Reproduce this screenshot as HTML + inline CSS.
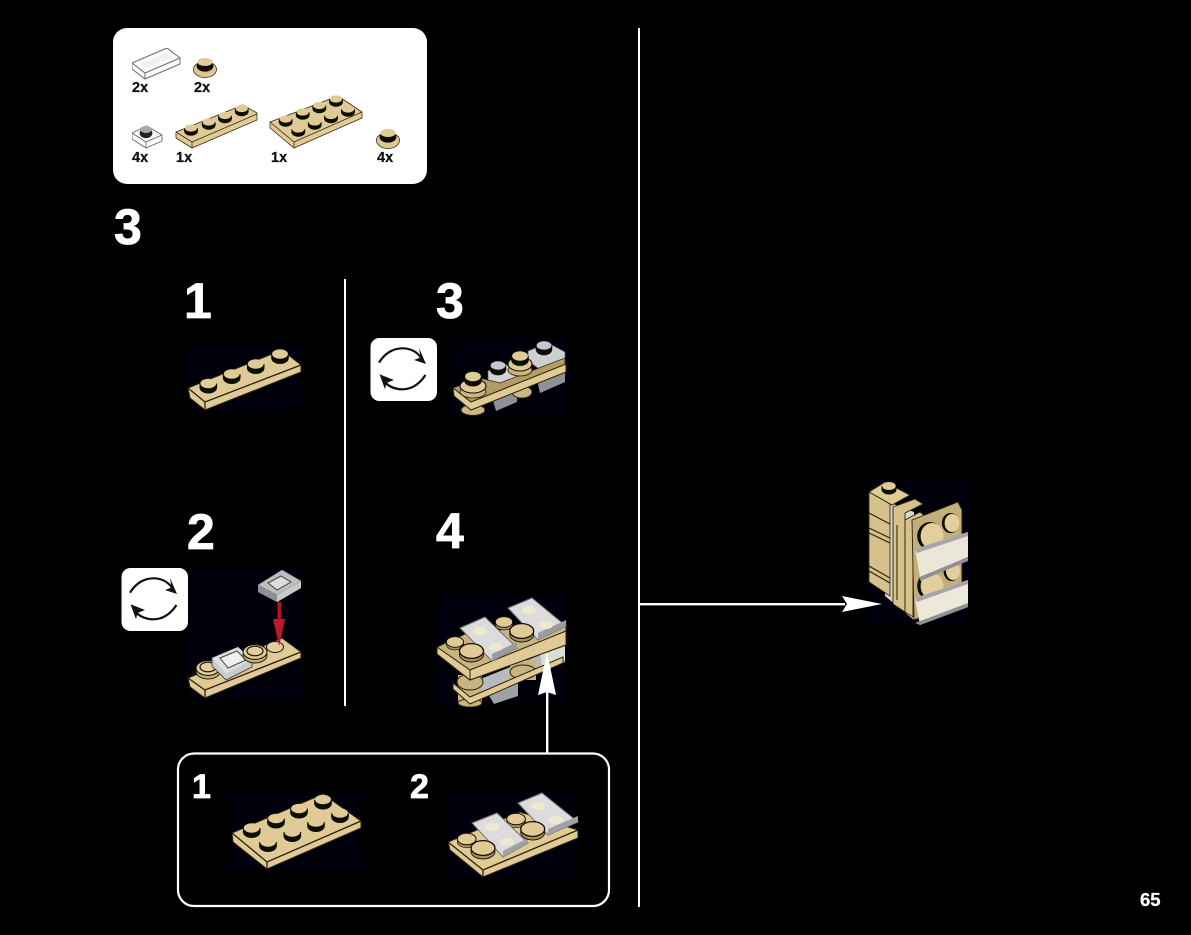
<!DOCTYPE html>
<html>
<head>
<meta charset="utf-8">
<style>
html,body{margin:0;padding:0;background:#000;width:1191px;height:935px;overflow:hidden}
svg{display:block}
text{font-family:"Liberation Sans",sans-serif;font-weight:bold}
</style>
</head>
<body>
<svg width="1191" height="935" viewBox="0 0 1191 935" xmlns="http://www.w3.org/2000/svg">
<defs>
<filter id="soft" x="0" y="0" width="100%" height="100%"><feGaussianBlur stdDeviation="0.3"/></filter>
<g id="s"><ellipse cy="4" rx="8.8" ry="6" fill="#0c0904"/><rect x="-8.8" y="0" width="17.6" height="4" fill="#0c0904"/><ellipse rx="7.9" ry="4.7" fill="#e0cb97"/></g>
<g id="g"><ellipse cy="4" rx="8.2" ry="5.8" fill="#0c0904"/><rect x="-8.2" y="0" width="16.4" height="4" fill="#0c0904"/><ellipse rx="7.4" ry="4.2" fill="#c4c6ca"/></g>
<g id="r"><ellipse cy="3.5" rx="12" ry="7.5" fill="#a8925e" stroke="#140f07" stroke-width=".9"/><ellipse rx="12" ry="7.4" fill="#e0cb97" stroke="#140f07" stroke-width="1.3"/></g>
<g id="ring"><ellipse cy="3.5" rx="12" ry="7.5" fill="#c4ae78" stroke="#140f07" stroke-width=".9"/><ellipse rx="12" ry="7.4" fill="#e0cb97" stroke="#140f07" stroke-width="1"/><ellipse cy="-1" rx="8" ry="4.8" fill="#e3cf9c" stroke="#1c160c" stroke-width="1.2"/></g>
<g id="rot">
<rect width="66.5" height="63" rx="9" fill="#fff"/>
<path d="M8.5 24.7 C15 14 24 10.3 31.8 10.3 C40 10.3 47 14 51.5 21" fill="none" stroke="#111" stroke-width="2.2"/>
<path d="M55.5 26 L48.5 10 L50 19.5 L43.5 22 Z" fill="#111"/>
<path d="M55 37 C49 46 41 51.3 31.8 51.3 C25 51.3 19.5 49 15 45" fill="none" stroke="#111" stroke-width="2.2"/>
<path d="M9 36.3 L23.5 42 L16 45 L14.5 51.3 Z" fill="#111"/>
</g>
</defs>

<rect width="1191" height="935" fill="#000"/>

<!-- panel, dividers and icons stay crisp -->
<rect x="113" y="28" width="314" height="156" rx="14" fill="#fff"/>
<rect x="344" y="279" width="2" height="427" fill="#fff"/>
<rect x="638" y="28" width="2" height="879" fill="#fff"/>
<use href="#rot" transform="translate(370.5,338)"/>
<use href="#rot" transform="translate(121.5,568)"/>

<g filter="url(#soft)">
<g fill="#050608">
<rect x="188" y="347" width="114" height="64"/>
<rect x="188" y="568" width="114" height="132"/>
<rect x="452" y="338" width="115" height="79"/>
<rect x="435" y="596" width="131" height="110"/>
<rect x="230" y="792" width="132" height="78"/>
<rect x="447" y="792" width="131" height="86"/>
<rect x="868" y="478" width="102" height="148"/>
</g>

<!-- parts -->
<path d="M132 63 L167 48 L180 58 L180 64 L145 79 L132 69 Z" fill="#fbfbfb" stroke="#6d6d6d" stroke-width="1"/>
<path d="M132 63 L145 73 L180 58 M145 73 V79" fill="none" stroke="#6d6d6d" stroke-width="1"/>
<path d="M140 64 L166 53 L172 57 L146 68 Z" fill="#f0f0f0"/>

<ellipse cx="205" cy="69.5" rx="11.5" ry="8" fill="#dcc793" stroke="#3a2e18" stroke-width=".8"/>
<ellipse cx="205" cy="66" rx="8.4" ry="5.6" fill="#0c0904"/>
<ellipse cx="205" cy="62" rx="7.6" ry="4" fill="#e0cb97"/>

<path d="M132 133 L147 126 L162 135 L162 141 L146 148 L132 139 Z" fill="#fbfbfb" stroke="#666" stroke-width=".9"/>
<path d="M132 133 L146 142 L162 135 M146 142 V148" fill="none" stroke="#666" stroke-width=".9"/>
<ellipse cx="146" cy="133" rx="6.4" ry="5.2" fill="#222"/>
<ellipse cx="146" cy="129.5" rx="5.8" ry="3.6" fill="#a5a8ad"/>

<path d="M176 132 L243 105 L257 113 L257 120 L192 148 L176 138 Z" fill="#e0cb97" stroke="#3a2e18" stroke-width=".8"/>
<path d="M176 132 L192 142 L257 114 M192 142 V148" fill="none" stroke="#3a2e18" stroke-width=".8"/>
<use href="#s" transform="translate(191,128) scale(.78)"/>
<use href="#s" transform="translate(208.7,122) scale(.78)"/>
<use href="#s" transform="translate(225,115.5) scale(.78)"/>
<use href="#s" transform="translate(241.7,108.5) scale(.78)"/>

<path d="M270 122 L338 96 L362 112 L362 118 L294 148 L270 128 Z" fill="#e0cb97" stroke="#3a2e18" stroke-width=".8"/>
<path d="M270 122 L294 142 L362 112 M294 142 V148" fill="none" stroke="#3a2e18" stroke-width=".8"/>
<use href="#s" transform="translate(285.7,119) scale(.78)"/>
<use href="#s" transform="translate(302.7,112) scale(.78)"/>
<use href="#s" transform="translate(319.3,105.5) scale(.78)"/>
<use href="#s" transform="translate(336,99) scale(.78)"/>
<use href="#s" transform="translate(298.3,129) scale(.78)"/>
<use href="#s" transform="translate(314.7,122) scale(.78)"/>
<use href="#s" transform="translate(331,115.5) scale(.78)"/>
<use href="#s" transform="translate(348,109) scale(.78)"/>

<ellipse cx="388" cy="140.5" rx="11.5" ry="8" fill="#dcc793" stroke="#3a2e18" stroke-width=".8"/>
<ellipse cx="388" cy="137" rx="8.4" ry="5.6" fill="#0c0904"/>
<ellipse cx="388" cy="133" rx="7.6" ry="4" fill="#e0cb97"/>

<!-- step 1 -->
<path d="M188 388 L282 350 L301 365 L301 372 L205 410 L190 398 Z" fill="#e0cb97" stroke="#2a2010"/>
<path d="M188 388 L205 402 L301 365 M205 402 V410" fill="none" stroke="#2a2010" stroke-width="1.3"/>
<use href="#s" transform="translate(208.3,383.5)"/>
<use href="#s" transform="translate(231.7,374)"/>
<use href="#s" transform="translate(255.7,364)"/>
<use href="#s" transform="translate(280,354)"/>

<!-- step 2 -->
<path d="M188 678 L282 638 L301 652 L301 658 L205 698 L190 687 Z" fill="#e0cb97" stroke="#2a2010"/>
<path d="M188 678 L205 690 L301 652 M205 690 V698" fill="none" stroke="#2a2010" stroke-width="1.3"/>
<ellipse cx="275" cy="647" rx="8.5" ry="5.5" fill="#e3cf9c" stroke="#1c160c"/>
<use href="#ring" transform="translate(208,668)"/>
<path d="M212 658 L238 647 L252 660 L252 667 L226 680 L212 666 Z" fill="#c9cacc" stroke="#333" stroke-width=".8"/>
<path d="M212 658 L238 647 L252 660 L226 674 Z" fill="#dcdddf"/>
<path d="M220 658 L237 651 L246 660 L228 668 Z" fill="#f0f0f0" stroke="#444" stroke-width="1"/>
<use href="#ring" transform="translate(255,652)"/>
<path d="M258 585 L282 570 L301 581 L301 588 L277 602 L258 592 Z" fill="#9fa1a4"/>
<path d="M258 585 L282 570 L301 581 L277 595 Z" fill="#bcbec0" stroke="#777" stroke-width=".6"/>
<path d="M268 583 L281 576 L291 582 L277 590 Z" fill="#dcdddd" stroke="#444"/>
<path d="M258 585 L277 595 V602 L258 592 Z" fill="#8d8f92"/>
<path d="M277 595 L301 581 V588 L277 602Z" fill="#c8c9cb"/>
<rect x="277.5" y="602" width="3.5" height="20" fill="#b3122a"/>
<path d="M273 619 L285 619 L279.2 646 Z" fill="#c0142e"/>

<!-- step 3 -->
<path d="M492 397 L517 386 L517 402 L496 411Z" fill="#8f9196"/>
<path d="M537 380 L565 368 L565 382 L540 393Z" fill="#8f9196"/>
<ellipse cx="473" cy="410" rx="12" ry="5.5" fill="#cdb884" stroke="#2a2010"/>
<ellipse cx="522" cy="392" rx="10" ry="6" fill="#cdb884" stroke="#2a2010"/>
<path d="M488 371 L503 363 L517 371 L517 381 L500 389 L488 381Z" fill="#d2d3d5" stroke="#555" stroke-width=".7"/>
<path d="M528 351 L548 343 L565 352 L565 362 L542 371 L528 361Z" fill="#cdced0" stroke="#555" stroke-width=".7"/>
<use href="#g" transform="translate(498,365.5)"/>
<use href="#g" transform="translate(544,345.5)"/>
<path d="M453 388 L480 378 L500 383 L565 358 L565 367 L471 404 L454 394Z" fill="#b39c66" stroke="#2a2010" stroke-width=".7"/>
<ellipse cx="473" cy="392" rx="13" ry="6" fill="#c9b480" stroke="#1c160c" stroke-width=".8"/>
<ellipse cx="473" cy="386" rx="13" ry="7" fill="#e0cb97" stroke="#140f07" stroke-width="1.1"/>
<use href="#s" transform="translate(473,376.5)"/>
<ellipse cx="520" cy="370" rx="12" ry="6" fill="#c9b480" stroke="#1c160c" stroke-width=".8"/>
<ellipse cx="520" cy="364" rx="12" ry="7" fill="#e0cb97" stroke="#140f07" stroke-width="1.1"/>
<use href="#s" transform="translate(520,356)"/>
<path d="M453 388 L471 402 L566 364 L566 372 L471 410 L454 396Z" fill="#e0cb97" stroke="#2a2010"/>

<!-- step 4 -->
<path d="M478 680 L565 645 L565 662 L480 698Z" fill="#b9babd"/>
<path d="M488 694 L518 682 L518 696 L494 704Z" fill="#9fa1a5"/>
<path d="M458 675 H482 V703 H458Z" fill="#c9b480"/>
<ellipse cx="470" cy="703" rx="12" ry="4" fill="#c9b480" stroke="#2a2010"/>
<ellipse cx="470" cy="682" rx="13" ry="8" fill="#c9b480" stroke="#2a2010"/>
<path d="M510 660 H536 V680 H510Z" fill="#c9b480"/>
<ellipse cx="523" cy="672" rx="13" ry="7" fill="#c9b480" stroke="#2a2010"/>
<path d="M540 650 L565 640 V660 L542 668Z" fill="#dddcd2"/>
<path d="M453 683 L470 697 L563 657 L563 663 L470 704 L453 689Z" fill="#e0cb97" stroke="#2a2010"/>
<path d="M437 647 L465 634 L566 622 L566 645 L470 680 L437 654Z" fill="#c9b480" stroke="#2a2010"/>
<path d="M437 647 L470 670 L566 631 L566 645 L470 680 L437 654Z" fill="#e0cb97" stroke="#2a2010"/>
<path d="M470 670 V680" stroke="#2a2010"/>
<use href="#r" transform="translate(504,622) scale(.72)"/>
<path d="M460 628 L485 617 L517 648 L492 661Z" fill="#dcdcdc" stroke="#6f7074"/>
<path d="M492 654 L517 642 L517 648 L492 661Z" fill="#9a9ca1"/>
<ellipse cx="480" cy="631" rx="7" ry="4" fill="#efe9d2"/>
<ellipse cx="496" cy="647" rx="7" ry="4" fill="#efe9d2"/>
<path d="M508 608 L532 598 L566 626 L538 640Z" fill="#dcdcdc" stroke="#6f7074"/>
<path d="M538 633 L566 620 L566 626 L538 640Z" fill="#9a9ca1"/>
<ellipse cx="529" cy="610" rx="7" ry="4" fill="#efe9d2"/>
<ellipse cx="546" cy="625" rx="7" ry="4" fill="#efe9d2"/>
<use href="#r" transform="translate(455,642) scale(.72)"/>
<use href="#r" transform="translate(471.5,651)"/>
<use href="#r" transform="translate(521.7,631)"/>

<!-- callout 1 -->
<path d="M232 833 L323 794 L361 821 L361 828 L267 869 L233 842 Z" fill="#e0cb97" stroke="#2a2010"/>
<path d="M232 833 L267 862 L361 821 M267 862 V869" fill="none" stroke="#2a2010" stroke-width="1.3"/>
<use href="#s" transform="translate(251.7,828)"/>
<use href="#s" transform="translate(276,818.5)"/>
<use href="#s" transform="translate(299,808.5)"/>
<use href="#s" transform="translate(323,799.5)"/>
<use href="#s" transform="translate(268,842)"/>
<use href="#s" transform="translate(292.3,832)"/>
<use href="#s" transform="translate(316,822)"/>
<use href="#s" transform="translate(340,813)"/>

<!-- callout 2 -->
<path d="M448 842 L520 812 L578 830 L578 838 L483 877 L450 850 Z" fill="#e0cb97" stroke="#2a2010"/>
<path d="M448 842 L483 870 L578 830 M483 870 V877" fill="none" stroke="#2a2010" stroke-width="1.3"/>
<use href="#r" transform="translate(516,819) scale(.78)"/>
<path d="M472 823 L497 813 L528 843 L503 857Z" fill="#dcdcdc" stroke="#6f7074"/>
<path d="M503 851 L528 838 L528 843 L503 857Z" fill="#a0a2a7"/>
<ellipse cx="492" cy="827" rx="7" ry="4" fill="#efe9d2"/>
<ellipse cx="507" cy="842" rx="7" ry="4" fill="#efe9d2"/>
<path d="M518 803 L542 793 L578 822 L548 835Z" fill="#dcdcdc" stroke="#6f7074"/>
<path d="M548 829 L578 816 L578 822 L548 835Z" fill="#a0a2a7"/>
<ellipse cx="538" cy="806" rx="7" ry="4" fill="#efe9d2"/>
<ellipse cx="556" cy="820" rx="7" ry="4" fill="#efe9d2"/>
<use href="#r" transform="translate(466.7,839) scale(.78)"/>
<use href="#r" transform="translate(483,848)"/>
<use href="#r" transform="translate(532.7,829)"/>

<!-- main model -->
<path d="M888 502 L914 512 L914 620 L885 596Z" fill="#d9d6c8"/>
<path d="M869 492 L885 482 L910 495 L892 505Z" fill="#e0cb97" stroke="#2a2010"/>
<path d="M869 492 L890 504 L890 596 L869 582Z" fill="#d6c18b" stroke="#2a2010" stroke-width=".8"/>
<path d="M869 513 L890 524 M869 528 L890 538 M869 533 L890 543 M869 566 L890 578 M869 571 L890 583" stroke="#2a2010" stroke-width="1.2" fill="none"/>
<use href="#s" transform="translate(889,486) scale(.85)"/>
<path d="M893 507 L915 499 L923 504 L905 513 V612 L893 604Z" fill="#d7c28c" stroke="#2a2010" stroke-width=".9"/>
<path d="M905 520 L920 512 L926 517 L913 524 V617 L905 612Z" fill="#d7c28c" stroke="#2a2010" stroke-width=".9"/>
<path d="M897 525 V600" stroke="#3a2e18" stroke-width="1.1"/>
<path d="M912 520 L958 502 L962 510 V600 L914 620Z" fill="#c4ae78" stroke="#2a2010" stroke-width=".9"/>
<ellipse cx="950.5" cy="523" rx="8.6" ry="10" fill="#0c0904"/>
<ellipse cx="952" cy="523" rx="7.4" ry="9" fill="#e3cf9c"/>
<ellipse cx="930" cy="536" rx="12.8" ry="14" fill="#0c0904"/>
<ellipse cx="932" cy="536" rx="11.4" ry="13" fill="#e3cf9c"/>
<ellipse cx="951.5" cy="571" rx="8" ry="10" fill="#0c0904"/>
<ellipse cx="953" cy="571" rx="7" ry="9" fill="#e3cf9c"/>
<ellipse cx="930" cy="586" rx="12.8" ry="14" fill="#0c0904"/>
<ellipse cx="932" cy="586" rx="11.4" ry="13" fill="#e3cf9c"/>
<path d="M915 549 L968 532 L968 557 L920 577Z" fill="#ebe7d8"/>
<path d="M915 549 L968 532 L968 536 L917 553Z" fill="#a4a5ac"/>
<path d="M915 598 L968 580 L968 607 L920 625Z" fill="#ede9da"/>
<path d="M915 598 L968 580 L968 584 L917 602Z" fill="#a4a5ac"/>
<path d="M968 557 L920 577 V581 L968 561Z" fill="#8f9096"/>
<path d="M968 607 L920 625 L915 623 L968 603Z" fill="#8f9096"/>
</g>

<!-- connectors -->
<rect x="546" y="692" width="2.4" height="62" fill="#fff"/>
<path d="M538 695 L547 652 L556 695 L547 692Z" fill="#fff"/>
<rect x="178" y="753.5" width="431" height="152.5" rx="16" fill="none" stroke="#fff" stroke-width="2.2"/>
<rect x="640" y="603" width="205" height="2.4" fill="#fff"/>
<path d="M842 596 L882 604 L842 612 L847 604Z" fill="#fff"/>

<!-- labels -->
<g font-size="14.5" fill="#111" stroke="#111" stroke-width=".25">
<text x="132" y="92">2x</text>
<text x="194" y="92">2x</text>
<text x="132" y="162">4x</text>
<text x="176" y="162">1x</text>
<text x="271" y="162">1x</text>
<text x="377" y="162">4x</text>
</g>
<g fill="#fff" stroke="#fff" stroke-width=".8">
<text x="114" y="244" font-size="50">3</text>
<text x="184" y="318" font-size="50">1</text>
<text x="436" y="318" font-size="50">3</text>
<text x="187" y="549" font-size="50">2</text>
<text x="436" y="548" font-size="50">4</text>
<text x="192" y="798" font-size="34">1</text>
<text x="410" y="798" font-size="34">2</text>
</g>
<text x="1140" y="906" font-size="18.5" fill="#fff" stroke="#fff" stroke-width=".3">65</text>
</svg>
</body>
</html>
